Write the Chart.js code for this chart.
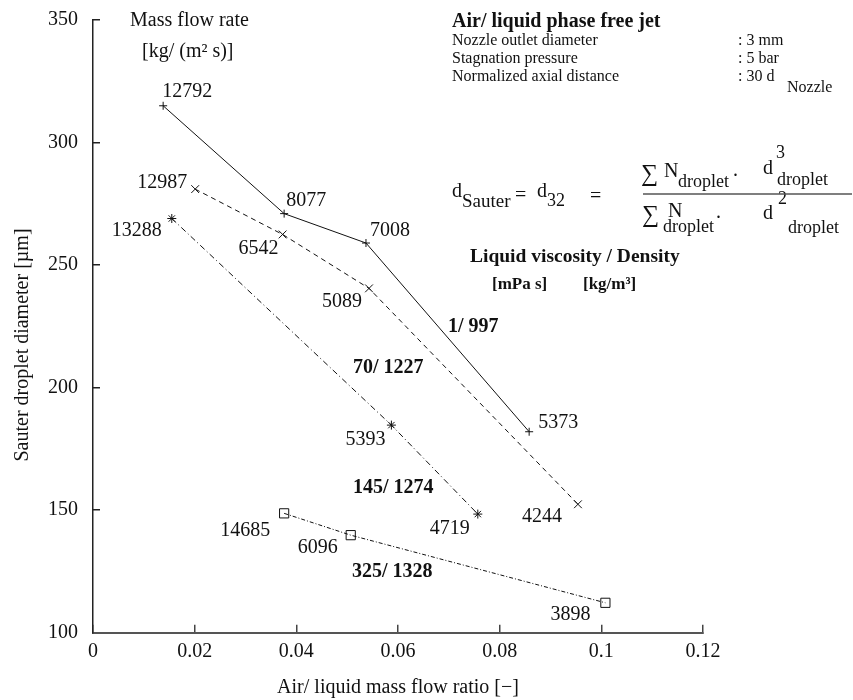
<!DOCTYPE html>
<html>
<head>
<meta charset="utf-8">
<title>Sauter droplet diameter</title>
<script src="https://cdn.jsdelivr.net/npm/chart.js@4.4.0/dist/chart.umd.min.js"></script>
<style>
  html, body { margin: 0; padding: 0; background: #fff; }
  #wrap { width: 853px; height: 700px; }
</style>
</head>
<body>
<div id="wrap"><canvas id="sauterChart" width="853" height="700"></canvas></div>
<script>
// air/liquid mass flow ratio [-], Sauter diameter [um], mass flow rate [kg/(m2 s)]
const ratio_997 = [0.0138, 0.0376, 0.0537, 0.0858];
const d32_997 = [315, 271, 259, 182];
const flux_997 = [12792, 8077, 7008, 5373];

const ratio_1227 = [0.0201, 0.0373, 0.0543, 0.0954];
const d32_1227 = [281, 262.5, 240.5, 152.4];
const flux_1227 = [12987, 6542, 5089, 4244];

const ratio_1274 = [0.0155, 0.0587, 0.0757];
const d32_1274 = [269, 184.7, 148.4];
const flux_1274 = [13288, 5393, 4719];

const ratio_1328 = [0.0376, 0.0507, 0.1008];
const d32_1328 = [148.7, 139.8, 112.2];
const flux_1328 = [14685, 6096, 3898];

// viscosity [mPa s] / density [kg/m3]
const liquids = ['1/ 997', '70/ 1227', '145/ 1274', '325/ 1328'];

const xTickValues = [0, 0.02, 0.04, 0.06, 0.08, 0.1, 0.12];
const xTickLabels = ['0', '0.02', '0.04', '0.06', '0.08', '0.1', '0.12'];
const yTickValues = [100, 150, 200, 250, 300, 350];
const yTickLabels = ['100', '150', '200', '250', '300', '350'];

const yTitle = 'Sauter droplet diameter [µm]';

const SERIF = '"Liberation Serif", "Times New Roman", serif';
const INK = '#111';

function pts(xs, ys) {
    return xs.map((x, i) => ({ x: x, y: ys[i] }));
}

// where each mass flow rate sits next to its marker
const fluxLabelOffsets = [
    [[-1, -14, 'left'], [2, -13, 'left'], [4, -12, 'left'], [9, -9, 'left']],
    [[-8, -6, 'right'], [-4, 14, 'right'], [-7, 13, 'right'], [-16, 12, 'right']],
    [[-10, 12, 'right'], [-6, 15, 'right'], [-8, 15, 'right']],
    [[-14, 17, 'right'], [-13, 13, 'right'], [-15, 12, 'right']]
];
const fluxes = [flux_997, flux_1227, flux_1274, flux_1328];

const liquidLabelPos = [[448, 327], [353, 368], [353, 488], [352, 572]];

// header, formula and legend texts
const notes = [
    { t: 'Mass flow rate', x: 130, y: 21, f: '20px' },
    { t: '[kg/ (m² s)]', x: 142, y: 52, f: '20px' },
    { t: 'Air/ liquid phase free jet', x: 452, y: 22, f: 'bold 20px' },
    { t: 'Nozzle outlet diameter', x: 452, y: 41, f: '16px' },
    { t: ': 3 mm', x: 738, y: 41, f: '16px' },
    { t: 'Stagnation pressure', x: 452, y: 59, f: '16px' },
    { t: ': 5 bar', x: 738, y: 59, f: '16px' },
    { t: 'Normalized axial distance', x: 452, y: 77, f: '16px' },
    { t: ': 30 d', x: 738, y: 77, f: '16px' },
    { t: 'Nozzle', x: 787, y: 88, f: '16px' },

    { t: 'd', x: 452, y: 192, f: '20px' },
    { t: 'Sauter', x: 462, y: 202, f: '19px' },
    { t: '=', x: 515, y: 196, f: '20px' },
    { t: 'd', x: 537, y: 192, f: '20px' },
    { t: '32', x: 547, y: 201, f: '18px' },
    { t: '=', x: 590, y: 197, f: '20px' },
    { t: '∑', x: 641, y: 175, f: '24px' },
    { t: 'N', x: 664, y: 172, f: '20px' },
    { t: 'droplet', x: 678, y: 182, f: '18px' },
    { t: '.', x: 733, y: 171, f: '20px' },
    { t: 'd', x: 763, y: 169, f: '20px' },
    { t: '3', x: 776, y: 153, f: '18px' },
    { t: 'droplet', x: 777, y: 180, f: '18px' },
    { t: '∑', x: 642, y: 216, f: '24px' },
    { t: 'N', x: 668, y: 212, f: '20px' },
    { t: 'droplet', x: 663, y: 227, f: '18px' },
    { t: '.', x: 716, y: 213, f: '20px' },
    { t: 'd', x: 763, y: 214, f: '20px' },
    { t: '2', x: 778, y: 199, f: '18px' },
    { t: 'droplet', x: 788, y: 228, f: '18px' },

    { t: 'Liquid viscosity / Density', x: 470, y: 257, f: 'bold 19.5px' },
    { t: '[mPa s]', x: 492, y: 285, f: 'bold 17px' },
    { t: '[kg/m³]', x: 583, y: 285, f: 'bold 17px' }
];

const annotate = {
    id: 'annotate',
    afterDatasetsDraw(chart) {
        const ctx = chart.ctx;
        ctx.save();
        ctx.fillStyle = INK;
        ctx.textBaseline = 'middle';

        // mass flow rate beside every point
        ctx.font = '20px ' + SERIF;
        fluxes.forEach((vals, i) => {
            const meta = chart.getDatasetMeta(i);
            meta.data.forEach((el, j) => {
                const [dx, dy, align] = fluxLabelOffsets[i][j];
                ctx.textAlign = align;
                ctx.fillText(String(vals[j]), el.x + dx, el.y + dy);
            });
        });

        // liquid names
        ctx.textAlign = 'left';
        ctx.font = 'bold 20px ' + SERIF;
        liquids.forEach((name, i) => {
            ctx.fillText(name, liquidLabelPos[i][0], liquidLabelPos[i][1]);
        });

        notes.forEach(n => {
            ctx.font = n.f + ' ' + SERIF;
            ctx.fillText(n.t, n.x, n.y);
        });

        // fraction bar
        ctx.strokeStyle = '#555';
        ctx.lineWidth = 1.5;
        ctx.beginPath();
        ctx.moveTo(643, 194);
        ctx.lineTo(852, 194);
        ctx.stroke();

        // y axis title, sits a bit below the middle of the axis
        ctx.translate(23, 345);
        ctx.rotate(-Math.PI / 2);
        ctx.textAlign = 'center';
        ctx.font = '20px ' + SERIF;
        ctx.fillText(yTitle, 0, 0);
        ctx.restore();
    }
};

function series(xs, ys, style, radius, dash) {
    return {
        data: pts(xs, ys),
        showLine: true,
        borderColor: INK,
        borderWidth: 1,
        borderDash: dash,
        pointStyle: style,
        pointRadius: radius,
        pointBorderColor: INK,
        pointBorderWidth: 1,
        pointBackgroundColor: 'rgba(0,0,0,0)'
    };
}

const data = {
    datasets: [
        series(ratio_997, d32_997, 'cross', 4, []),
        series(ratio_1227, d32_1227, 'crossRot', 5.5, [5, 4]),
        series(ratio_1274, d32_1274, 'star', 4.5, [6, 3, 1, 3]),
        series(ratio_1328, d32_1328, 'rect', 6.5, [4, 2, 1, 2])
    ]
};

const config = {
    type: 'scatter',
    data: data,
    plugins: [annotate],
    options: {
        responsive: false,
        animation: false,
        devicePixelRatio: 1,
        layout: { padding: { top: 20, right: 150, left: 0, bottom: 0 } },
        plugins: {
            legend: { display: false },
            tooltip: { enabled: false }
        },
        scales: {
            x: {
                type: 'linear',
                min: 0,
                max: 0.12,
                afterBuildTicks: s => { s.ticks = xTickValues.map(v => ({ value: v })); },
                afterFit: s => { s.height = 67.3; s.paddingLeft = 0; s.paddingRight = 0; },
                ticks: {
                    color: INK,
                    padding: 15,
                    maxRotation: 0,
                    font: { family: SERIF, size: 20 },
                    callback: (v, i) => xTickLabels[i]
                },
                grid: { drawOnChartArea: false, tickLength: -8, color: '#444', lineWidth: 1.5 },
                border: { color: '#555', width: 2 },
                title: {
                    display: true,
                    text: 'Air/ liquid mass flow ratio [−]',
                    color: INK,
                    padding: { top: 0, bottom: 0 },
                    font: { family: SERIF, size: 20 }
                }
            },
            y: {
                type: 'linear',
                min: 100,
                max: 350,
                afterBuildTicks: s => { s.ticks = yTickValues.map(v => ({ value: v })); },
                afterFit: s => { s.width = 93; s.paddingTop = 0; s.paddingBottom = 0; },
                ticks: {
                    color: INK,
                    padding: 22,
                    font: { family: SERIF, size: 20 },
                    callback: (v, i) => yTickLabels[i]
                },
                grid: { drawOnChartArea: false, tickLength: -7, color: '#222', lineWidth: 1.5 },
                border: { color: '#222', width: 1.5 }
            }
        }
    }
};

new Chart(document.getElementById('sauterChart'), config);
</script>
</body>
</html>
